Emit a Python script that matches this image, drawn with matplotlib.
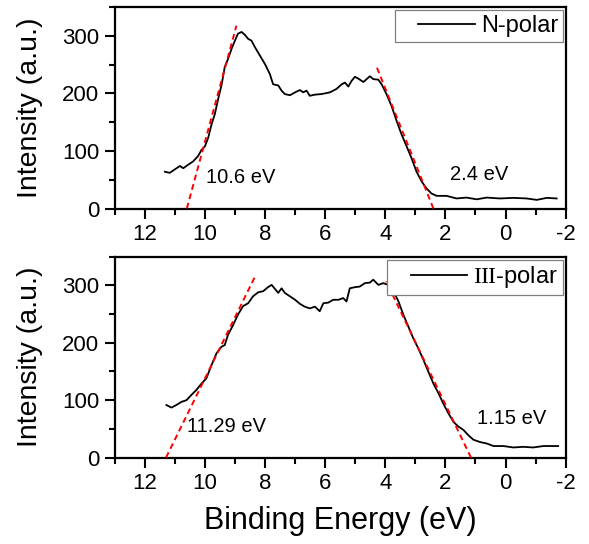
import matplotlib
matplotlib.use('Agg')
from matplotlib import pyplot as plt
from matplotlib.legend_handler import HandlerLine2D
from matplotlib.ticker import MultipleLocator

plt.rcParams['font.family'] = ['Liberation Sans', 'Noto Sans CJK SC']
plt.rcParams['axes.unicode_minus'] = False
plt.rcParams['mathtext.fontset'] = 'custom'
plt.rcParams['mathtext.rm'] = 'Liberation Serif'

# valence band spectrum, N-polar sample
n_energy = [11.33, 11.17, 11.0, 10.83, 10.72, 10.56, 10.39, 10.23, 10.11, 10.0,
            9.89, 9.78, 9.67, 9.56, 9.44, 9.34, 9.23, 9.11, 9.0, 8.9,
            8.78, 8.67, 8.56, 8.45, 8.34, 8.17, 8.0, 7.84, 7.73, 7.56,
            7.45, 7.34, 7.17, 7.0, 6.84, 6.73, 6.62, 6.51, 6.34, 6.12,
            5.84, 5.62, 5.45, 5.34, 5.23, 5.12, 5.01, 4.9, 4.73, 4.62,
            4.51, 4.4, 4.23, 4.12, 3.96, 3.79, 3.62, 3.46, 3.29, 3.13,
            2.96, 2.79, 2.63, 2.46, 2.29, 1.96, 1.63, 1.3, 0.96, 0.63,
            0.19, -0.26, -0.7, -1.04, -1.37, -1.7]
n_counts = [64, 62, 68, 74, 70, 76, 82, 91, 102, 108,
            123, 146, 164, 190, 216, 246, 260, 278, 292, 304,
            307, 302, 295, 292, 281, 266, 251, 234, 216, 214,
            205, 199, 197, 202, 206, 202, 205, 196, 198, 199,
            202, 208, 216, 219, 212, 222, 229, 226, 220, 225,
            230, 225, 224, 216, 199, 178, 152, 129, 108, 88,
            64, 47, 35, 26, 22, 22, 17.5, 19, 16, 19,
            17.5, 18.5, 17.5, 15, 18.5, 17.5]

# valence band spectrum, III-polar sample
iii_energy = [11.28, 11.11, 10.95, 10.78, 10.61, 10.45, 10.28, 10.11, 9.95, 9.78,
              9.61, 9.45, 9.34, 9.23, 9.06, 8.9, 8.73, 8.56, 8.4, 8.23,
              8.06, 7.9, 7.78, 7.67, 7.56, 7.45, 7.34, 7.17, 7.0, 6.84,
              6.68, 6.51, 6.34, 6.18, 6.06, 5.9, 5.73, 5.56, 5.4, 5.29,
              5.18, 5.01, 4.85, 4.68, 4.51, 4.4, 4.23, 4.07, 3.9, 3.73,
              3.56, 3.4, 3.23, 3.07, 2.9, 2.73, 2.57, 2.4, 2.23, 2.07,
              1.9, 1.73, 1.57, 1.4, 1.24, 1.07, 0.85, 0.63, 0.4, 0.07,
              -0.26, -0.59, -0.92, -1.26, -1.75]
iii_counts = [91.5, 87, 91.5, 97, 100, 109, 118, 129, 138, 161,
              182, 193, 196, 214, 231, 249, 264, 269, 281, 288,
              290, 297, 301, 294, 287, 295, 287, 281, 275, 268,
              263, 260, 263, 255, 269, 270, 275, 275, 278, 272,
              295, 297, 298, 304, 305, 310, 301, 304, 301, 290,
              272, 249, 228, 208, 190, 170, 150, 129, 112, 94,
              77, 62, 54, 48, 39, 31, 27, 24.5, 20, 20,
              17.5, 18.6, 17.5, 20, 20]

# linear edge fits: (x-intercept, far x, far y)
n_fits = [(10.6, 8.95, 318), (2.4, 4.3, 248)]
iii_fits = [(11.29, 8.3, 319), (1.15, 3.97, 307)]

# onset label positions (left, baseline) in data coords
n_label_pos = [(9.97, 44), (1.85, 50)]
iii_label_pos = [(10.59, 45), (0.96, 58)]


class OffsetLine(HandlerLine2D):
    # leave some blank room in front of the legend line
    def __init__(self, shift, **kw):
        super().__init__(**kw)
        self.shift = shift

    def create_artists(self, legend, orig_handle, xdescent, ydescent,
                       width, height, fontsize, trans):
        s = self.shift * fontsize
        return super().create_artists(legend, orig_handle, xdescent - s, ydescent,
                                      width - s, height, fontsize, trans)


def draw_panel(ax, energy, counts, label, fits, label_pos):
    line, = ax.plot(energy, counts, color='black', linewidth=1.3, label=label, zorder=2)
    for (x0, x1, y1), (tx, ty) in zip(fits, label_pos):
        ax.plot([x0, x1], [0, y1], color='red', linestyle=(0, (3, 2)), linewidth=1.4, zorder=3)
        ax.text(tx, ty, f'{x0} eV', fontsize=14.5, ha='left', va='baseline')

    ax.set_xlim(13, -2)
    ax.set_ylim(0, 350)
    ax.xaxis.set_major_locator(MultipleLocator(2))
    ax.xaxis.set_minor_locator(MultipleLocator(1))
    ax.yaxis.set_major_locator(MultipleLocator(100))
    ax.yaxis.set_minor_locator(MultipleLocator(50))
    ax.tick_params(which='both', direction='out', width=1.5, labelsize=16, pad=4)
    ax.tick_params(which='major', length=7)
    ax.tick_params(which='minor', length=4)
    ax.tick_params(top=False, right=False, which='both')
    for sp in ax.spines.values():
        sp.set_linewidth(1.6)

    ax.set_ylabel('Intensity (a.u.)', fontsize=20.5)
    ax.yaxis.set_label_coords(-0.158, 0.5)

    leg = ax.legend(handles=[line], loc='upper right', fontsize=17, frameon=True,
                    fancybox=False, framealpha=1, edgecolor='#808080',
                    borderpad=0.2, borderaxespad=0.12, handlelength=3.2,
                    handletextpad=0.25, handler_map={line: OffsetLine(0.8)})
    leg.get_frame().set_linewidth(0.9)


fig = plt.figure(figsize=(5.89, 5.44), dpi=100)
ax_top = fig.add_axes([0.1947, 0.6167, 0.7657, 0.3700])
ax_bot = fig.add_axes([0.1947, 0.1590, 0.7657, 0.3690])

draw_panel(ax_top, n_energy, n_counts, 'N-polar', n_fits, n_label_pos)
draw_panel(ax_bot, iii_energy, iii_counts, r'$\mathrm{III}$-polar', iii_fits, iii_label_pos)

ax_bot.set_xlabel('Binding Energy (eV)', fontsize=22, labelpad=9)

fig.savefig('out.png', dpi=100)
